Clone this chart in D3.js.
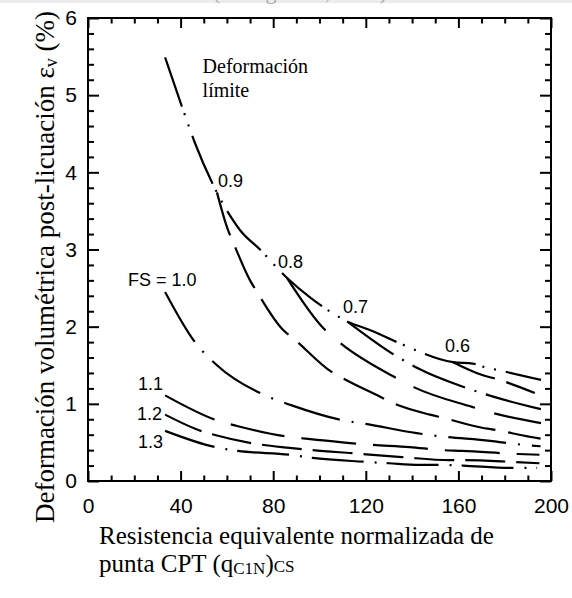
<!DOCTYPE html>
<html>
<head>
<meta charset="utf-8">
<script src="https://cdn.jsdelivr.net/npm/d3@7"></script>
<style>
  body { margin: 0; background: #fff; }
  svg { display: block; }
  .axis path { display: none; }
  .axis line { stroke: #000; stroke-width: 2; }
  .axis text { font-family: "Liberation Sans", Arial, sans-serif; font-size: 21px; fill: #000; }
  .lbl { font-family: "Liberation Sans", Arial, sans-serif; font-size: 18px; fill: #000; }
  .serif { font-family: "Liberation Serif", "Times New Roman", serif; fill: #000; }
</style>
</head>
<body>
<svg id="chart" width="572" height="598"></svg>
<script>
// curves: [q_c1N,cs , strain %]
var limitCurve = [[33.3, 5.49], [40.6, 4.85], [46.2, 4.38], [55.7, 3.74], [62.2, 3.40], [65.7, 3.25],
    [74.3, 3.00], [86.0, 2.63], [96.3, 2.37], [111.9, 2.07], [123.1, 1.94], [133.5, 1.80],
    [157.7, 1.54], [166.3, 1.52], [171.9, 1.47], [176.7, 1.44], [195.7, 1.31]];
var fs06 = [[157.7, 1.54], [170.6, 1.37], [176.7, 1.32], [193.0, 1.14]];
var fs07 = [[111.9, 2.07], [132.6, 1.63], [142.5, 1.46], [165.0, 1.19], [175.4, 1.09], [195.7, 0.93]];
var fs08 = [[86.0, 2.63], [101.7, 1.98], [108.9, 1.79], [133.5, 1.33], [141.2, 1.21], [165.9, 0.96],
    [173.7, 0.89], [195.7, 0.75]];
var fs09 = [[55.7, 3.74], [60.5, 3.25], [62.6, 3.10], [70.0, 2.60], [73.0, 2.45], [84.2, 1.96],
    [89.4, 1.83], [105.4, 1.41], [110.1, 1.33], [127.0, 1.08], [131.7, 1.01], [147.7, 0.86],
    [153.3, 0.82], [170.2, 0.69], [174.5, 0.67], [191.4, 0.57], [195.5, 0.55]];
var fs10 = [[33.3, 2.45], [46.2, 1.80], [55.7, 1.50], [77.3, 1.10], [88.0, 0.98], [109.6, 0.79],
    [120.0, 0.74], [142.0, 0.62], [152.0, 0.58], [173.7, 0.52], [184.4, 0.48], [195.5, 0.45]];
var fs11 = [[33.3, 1.11], [57.3, 0.77], [64.8, 0.71], [87.3, 0.57], [97.0, 0.54], [121.8, 0.47],
    [139.0, 0.44], [153.0, 0.40], [161.6, 0.39], [185.7, 0.35], [195.0, 0.34]];
var fs12 = [[33.3, 0.86], [49.7, 0.64], [54.4, 0.60], [70.8, 0.49], [87.0, 0.43], [97.0, 0.40],
    [114.0, 0.36], [135.6, 0.31], [156.0, 0.27], [162.0, 0.27], [182.0, 0.25], [195.0, 0.23]];
var fs13 = [[33.3, 0.65], [54.9, 0.44], [64.8, 0.39], [87.3, 0.34], [97.0, 0.30], [119.0, 0.25],
    [130.0, 0.23], [143.0, 0.21], [151.0, 0.21], [162.0, 0.20], [182.0, 0.17], [194.0, 0.17]];

var xMajor = [0, 40, 80, 120, 160, 200];
var yMajor = [0, 1, 2, 3, 4, 5, 6];

var svg = d3.select("#chart");

// faint cut-off caption from the scan
svg.append("rect").attr("x", 0).attr("y", 0).attr("width", 572).attr("height", 3).attr("fill", "#ececec");
svg.append("text").attr("class", "serif").attr("x", 300).attr("y", -1)
    .attr("text-anchor", "middle").style("font-size", "22px").style("fill", "#aaa")
    .text("(Zhang et al., 2002)");

var x = d3.scaleLinear().domain([0, 200]).range([88, 551]);
var y = d3.scaleLinear().domain([0, 6]).range([481, 18]);

var xMinor = d3.range(0, 201, 10).filter(d => d % 40 != 0);
var yMinor = d3.range(0, 31).map(d => d / 5).filter(d => Math.abs(d - Math.round(d)) > 0.01);

// bottom
svg.append("g").attr("class", "axis").attr("transform", "translate(0," + y(0) + ")")
    .call(d3.axisBottom(x).tickValues(xMajor).tickSize(-10).tickPadding(17).tickFormat(d3.format("d")));
svg.append("g").attr("class", "axis").attr("transform", "translate(0," + y(0) + ")")
    .call(d3.axisBottom(x).tickValues(xMinor).tickSize(-5.5).tickFormat(""));
// top
svg.append("g").attr("class", "axis").attr("transform", "translate(0," + y(6) + ")")
    .call(d3.axisTop(x).tickValues(xMajor).tickSize(-10).tickFormat(""));
svg.append("g").attr("class", "axis").attr("transform", "translate(0," + y(6) + ")")
    .call(d3.axisTop(x).tickValues(xMinor).tickSize(-5.5).tickFormat(""));
// left
svg.append("g").attr("class", "axis").attr("transform", "translate(" + x(0) + ",0)")
    .call(d3.axisLeft(y).tickValues(yMajor).tickSize(-11).tickPadding(11).tickFormat(d3.format("d")));
svg.append("g").attr("class", "axis").attr("transform", "translate(" + x(0) + ",0)")
    .call(d3.axisLeft(y).tickValues(yMinor).tickSize(-6).tickFormat(""));
// right
svg.append("g").attr("class", "axis").attr("transform", "translate(" + x(200) + ",0)")
    .call(d3.axisRight(y).tickValues(yMajor).tickSize(-11).tickFormat(""));
svg.append("g").attr("class", "axis").attr("transform", "translate(" + x(200) + ",0)")
    .call(d3.axisRight(y).tickValues(yMinor).tickSize(-6).tickFormat(""));

svg.append("rect")
    .attr("x", x(0)).attr("y", y(6))
    .attr("width", x(200) - x(0)).attr("height", y(0) - y(6))
    .attr("fill", "none").attr("stroke", "#000").attr("stroke-width", 2);

var line = d3.line()
    .x(d => x(d[0]))
    .y(d => y(d[1]))
    .curve(d3.curveMonotoneX);

var curves = [
    { pts: limitCurve, dash: "52 7 2 10 2 10" },
    { pts: fs06, dash: "45 12" },
    { pts: fs07, dash: "57 10 2 10" },
    { pts: fs08, dash: "65 20" },
    { pts: fs09, dash: "45 13" },
    { pts: fs10, dash: "58 12 2 12" },
    { pts: fs11, dash: "55 17" },
    { pts: fs12, dash: "40 11" },
    { pts: fs13, dash: "52 11 2 10" }
];

svg.append("g").selectAll("path")
    .data(curves)
    .enter().append("path")
    .attr("d", d => line(d.pts))
    .attr("fill", "none")
    .attr("stroke", "#000")
    .attr("stroke-width", 2.2)
    .attr("stroke-dasharray", d => d.dash);

// curve labels
var labels = [
    { t: "0.9", q: 56.2, e: 3.81 },
    { t: "0.8", q: 82.1, e: 2.76 },
    { t: "0.7", q: 110.2, e: 2.18 },
    { t: "0.6", q: 154.2, e: 1.67 },
    { t: "FS = 1.0", q: 17.3, e: 2.53 },
    { t: "1.1", q: 21.6, e: 1.18 },
    { t: "1.2", q: 21.2, e: 0.79 },
    { t: "1.3", q: 21.6, e: 0.43 }
];
svg.selectAll(".lbl")
    .data(labels)
    .enter().append("text")
    .attr("class", "lbl")
    .attr("x", d => x(d.q))
    .attr("y", d => y(d.e))
    .text(d => d.t);

svg.append("text").attr("class", "serif").style("font-size", "20px")
    .attr("x", x(49.5)).attr("y", y(5.29)).text("Deformación");
svg.append("text").attr("class", "serif").style("font-size", "20px")
    .attr("x", x(49.5)).attr("y", y(4.98)).text("límite");

// axis titles
var xt = svg.append("text").attr("class", "serif").style("font-size", "25px");
xt.append("tspan").attr("x", 99).attr("y", 544).text("Resistencia equivalente normalizada de");
var l2 = xt.append("tspan").attr("x", 99).attr("y", 572);
l2.append("tspan").text("punta CPT (q");
l2.append("tspan").style("font-size", "17px").attr("dy", 2).text("C1N");
l2.append("tspan").attr("dy", -2).text(")");
l2.append("tspan").style("font-size", "17px").text("CS");

var yt = svg.append("text").attr("class", "serif").style("font-size", "27px")
    .attr("text-anchor", "middle")
    .attr("transform", "translate(54,267) rotate(-90)");
yt.append("tspan").text("Deformación volumétrica post-licuación ε");
yt.append("tspan").style("font-size", "18px").attr("dy", 3).text("v");
yt.append("tspan").attr("dy", -3).text(" (%)");
</script>
</body>
</html>
